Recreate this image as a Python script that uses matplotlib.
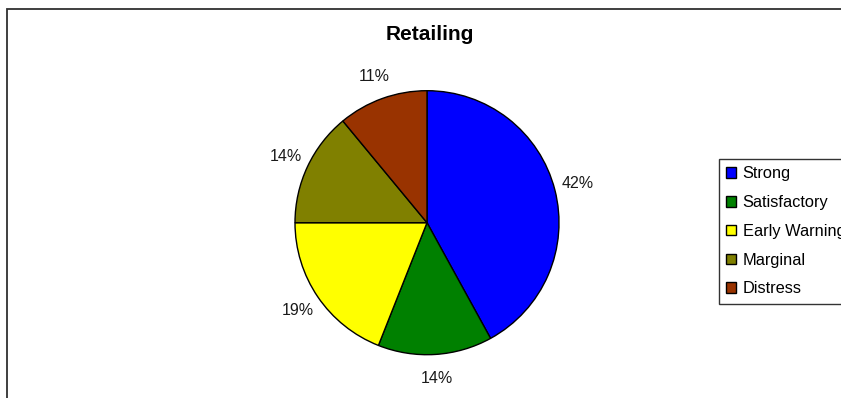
import matplotlib
matplotlib.use('Agg')
import matplotlib.pyplot as plt
from matplotlib.patches import Rectangle

plt.rcParams['font.family'] = ['Liberation Sans', 'DejaVu Sans']

categories = ["Strong", "Satisfactory", "Early Warning", "Marginal", "Distress"]
shares = [42, 14, 19, 14, 11]
colors = ["#0000FF", "#008000", "#FFFF00", "#808000", "#993300"]

W, H = 841, 398
fig = plt.figure(figsize=(W / 100, H / 100), dpi=100)

# chart area border, runs off the right and bottom edges
fig.add_artist(Rectangle((7 / W, -0.1), 1.2, 1 - 9 / H + 0.1,
                         transform=fig.transFigure, fill=False,
                         edgecolor='#303030', lw=1.3))

# pie centred at (427, 222.7) px with a 132 px radius
cx, cy, r = 427, 222.7, 132
ax = fig.add_axes([(cx - r) / W, (H - cy - r) / H, 2 * r / W, 2 * r / H])
wedges, _, pct = ax.pie(shares, colors=colors, startangle=90, counterclock=False,
                        autopct='%1.0f%%', pctdistance=1.18,
                        wedgeprops=dict(edgecolor='black', linewidth=1.0),
                        textprops=dict(fontsize=11.5, color='#1a1a1a'))
ax.set_xlim(-1, 1)
ax.set_ylim(-1, 1)
ax.set_aspect('equal')
ax.axis('off')

fig.text(430 / W, 1 - 35 / H, "Retailing", ha='center', va='center',
         fontsize=15, fontweight='bold')

leg = fig.legend(wedges, categories, loc='upper left',
                 bbox_to_anchor=(719 / W, 1 - 159 / H),
                 fontsize=11.8, frameon=True, fancybox=False, shadow=False,
                 handlelength=0.6, handleheight=0.6, handletextpad=0.4,
                 labelspacing=0.84, borderpad=0.45, borderaxespad=0)
leg.get_frame().set_edgecolor('black')
leg.get_frame().set_linewidth(1.0)

plt.savefig("out.png", dpi=100)
